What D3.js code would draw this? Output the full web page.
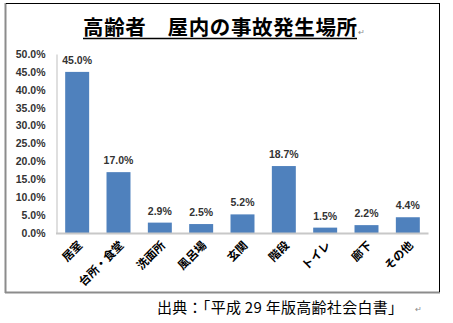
<!DOCTYPE html>
<html><head><meta charset="utf-8">
<script src="https://cdn.jsdelivr.net/npm/d3@7"></script>
<style>
html,body{margin:0;padding:0;background:#fff;}
svg{display:block;}
</style></head>
<body>
<svg id="chart" width="453" height="323"></svg>
<script>
const titleText = "高齢者　屋内の事故発生場所";
const sourceText = "出典：「平成 29 年版高齢社会白書」";
const categories = ["居室","台所・食堂","洗面所","風呂場","玄関","階段","トイレ","廊下","その他"];
const values = [45.0, 17.0, 2.9, 2.5, 5.2, 18.7, 1.5, 2.2, 4.4];
const yTicks = [0,5,10,15,20,25,30,35,40,45,50];

const svg = d3.select("#chart");
const jp = "'Noto Sans CJK JP', sans-serif";
const lat = "'Liberation Sans', Arial, sans-serif";

// frame
svg.append("line").attr("x1",5.5).attr("x2",5.5).attr("y1",3).attr("y2",293).attr("stroke","#8c8c8c").attr("stroke-width",2);
svg.append("line").attr("x1",5).attr("x2",440).attr("y1",292.5).attr("y2",292.5).attr("stroke","#8c8c8c").attr("stroke-width",2);
svg.append("line").attr("x1",6).attr("x2",440).attr("y1",3.5).attr("y2",3.5).attr("stroke","#000").attr("stroke-width",1);
svg.append("line").attr("x1",439.5).attr("x2",439.5).attr("y1",3).attr("y2",292).attr("stroke","#000").attr("stroke-width",1);

// title
svg.append("text").attr("x",220).attr("y",35).attr("text-anchor","middle")
  .attr("font-family",jp).attr("font-weight","bold").attr("font-size",20.5)
  .attr("fill","#000").attr("textLength",274).attr("lengthAdjust","spacing").text(titleText);
svg.append("line").attr("x1",83).attr("x2",357).attr("y1",38.5).attr("y2",38.5).attr("stroke","#000").attr("stroke-width",1.3);
svg.append("text").attr("x",358).attr("y",35).attr("font-family",jp).attr("font-size",8).attr("fill","#888").text("↵");

const x = d3.scaleBand().domain(categories).range([56.5,428.5]).paddingInner(0.42).paddingOuter(0.21);
const y = d3.scaleLinear().domain([0,50]).range([233,54]);

// y axis
const yAxis = d3.axisLeft(y).tickValues(yTicks).tickSize(0).tickPadding(11).tickFormat(d=>d.toFixed(1)+"%");
const ga = svg.append("g").attr("transform","translate(56.5,0)").call(yAxis);
ga.select(".domain").attr("stroke","#bfbfbf").attr("stroke-width",1);
ga.selectAll("text").attr("font-family",lat).attr("font-weight","bold").attr("font-size",10.5).attr("fill","#333");

// bars
svg.selectAll("rect.bar").data(values).join("rect").attr("class","bar")
  .attr("x",(d,i)=>x(categories[i])).attr("width",x.bandwidth())
  .attr("y",d=>y(d)).attr("height",d=>y(0)-y(d)).attr("fill","#4f81bd");

// x axis line
svg.append("line").attr("x1",56).attr("x2",428.5).attr("y1",233.5).attr("y2",233.5).attr("stroke","#c8c8c8").attr("stroke-width",2);

// data labels
svg.selectAll("text.lbl").data(values).join("text").attr("class","lbl")
  .attr("x",(d,i)=>x(categories[i])+x.bandwidth()/2).attr("y",d=>y(d)-8)
  .attr("text-anchor","middle").attr("font-family",lat).attr("font-weight","bold").attr("font-size",10.5).attr("fill","#333")
  .text(d=>d.toFixed(1)+"%");

// x labels
const xAxis = d3.axisBottom(x).tickSize(0).tickPadding(0);
const gx = svg.append("g").attr("transform","translate(0,233)").call(xAxis);
gx.select(".domain").remove();
gx.selectAll("text").attr("font-family",jp).attr("font-weight","bold").attr("font-size",11.5).attr("fill","#000")
  .attr("text-anchor","end").attr("dy",null).attr("y",0)
  .attr("transform","translate(6,13) rotate(-45)");

// source
svg.append("text").attr("x",157).attr("y",312.5).attr("font-family",jp).attr("font-size",15).attr("fill","#000")
  .attr("textLength",246).attr("lengthAdjust","spacing").text(sourceText);
svg.append("text").attr("x",415).attr("y",312).attr("font-family",jp).attr("font-size",8).attr("fill","#888").text("↵");
</script>
</body></html>
